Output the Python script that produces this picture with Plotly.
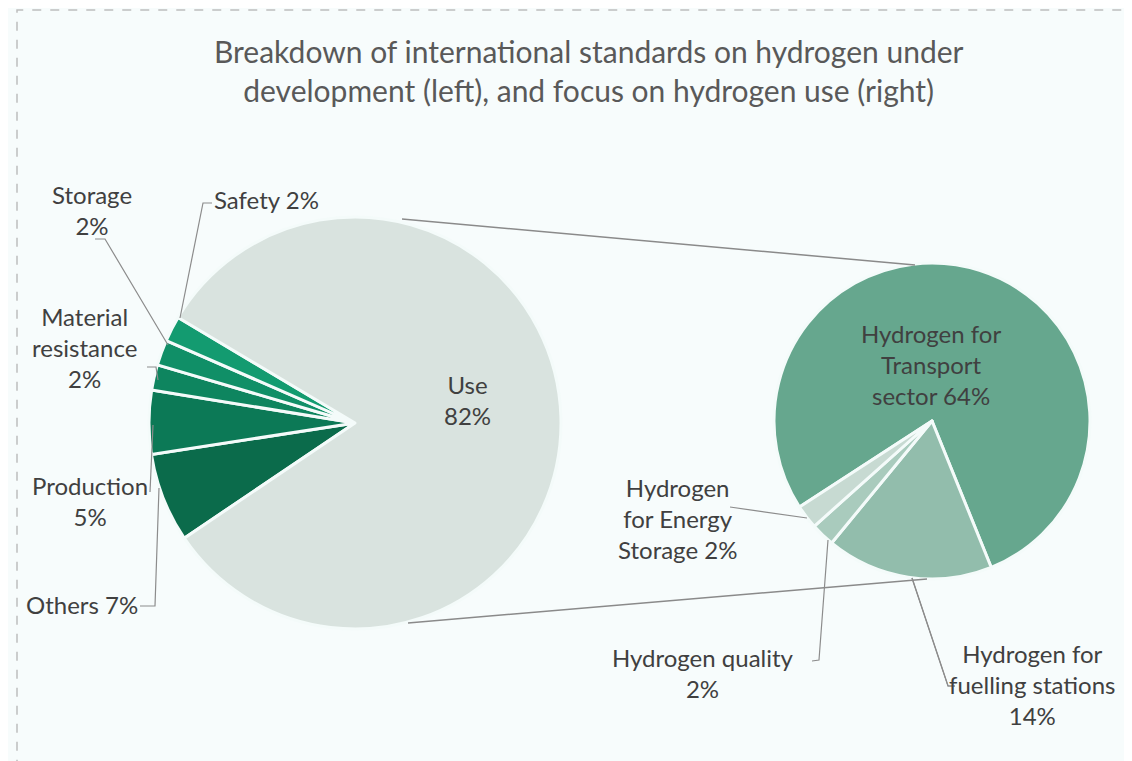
import plotly.graph_objects as go

# ---------------- data ----------------
title_lines = ["Breakdown of international standards on hydrogen under",
               "development (left), and focus on hydrogen use (right)"]

main_labels = ["Others", "Production", "Material resistance", "Storage", "Safety", "Use"]
main_values = [7, 5, 2, 2, 2, 82]
main_colors = ["#0b6b4b", "#0c7956", "#0e855f", "#108f67", "#139b70", "#d9e3df"]

use_labels = ["Hydrogen for Transport sector", "Hydrogen for fuelling stations",
              "Hydrogen quality", "Hydrogen for Energy Storage"]
use_values = [64, 14, 2, 2]
use_colors = ["#66a78e", "#92bdac", "#a9cbbd", "#c7dad2"]

# ---------------- layout helpers ----------------
W, H = 1132, 761
OFF = 8  # page body margin of the browser
FONT = "Lato, Carlito, 'Open Sans', sans-serif"
TXT = "#404040"
LEAD = "#8c8c8c"


def px(x, y):
    return (x - OFF) / W, 1 - (y - OFF) / H


def domain(cx, cy, r):
    xa, yb = px(cx - r, cy + r)
    xb, ya = px(cx + r, cy - r)
    return dict(x=[xa, xb], y=[yb, ya])


fig = go.Figure()

fig.add_trace(go.Pie(
    labels=main_labels, values=main_values, sort=False, direction="clockwise",
    rotation=236, domain=domain(355, 423, 206),
    marker=dict(colors=main_colors, line=dict(color="#f4fbfa", width=3)),
    textinfo="none", hoverinfo="label+percent", showlegend=False,
))

fig.add_trace(go.Pie(
    labels=use_labels, values=use_values, sort=False, direction="clockwise",
    rotation=237, domain=domain(932, 421, 158),
    marker=dict(colors=use_colors, line=dict(color="#f4fbfa", width=3)),
    textinfo="none", hoverinfo="label+value", showlegend=False,
))

# ---------------- label texts built from the data ----------------
mv = dict(zip(main_labels, main_values))
uv = dict(zip(use_labels, use_values))

labels = [
    (f"Others {mv['Others']}%", 82, 604),
    (f"Production<br>{mv['Production']}%", 90, 501),
    (f"Material<br>resistance<br>{mv['Material resistance']}%", 84, 347),
    (f"Storage<br>{mv['Storage']}%", 92, 210),
    (f"Safety {mv['Safety']}%", 266, 199),
    (f"Use<br>{mv['Use']}%", 467, 400),
    (f"Hydrogen for<br>Transport<br>sector {uv['Hydrogen for Transport sector']}%", 931, 364),
    (f"Hydrogen<br>for Energy<br>Storage {uv['Hydrogen for Energy Storage']}%", 677, 518),
    (f"Hydrogen quality<br>{uv['Hydrogen quality']}%", 703, 673),
    (f"Hydrogen for<br>fuelling stations<br>{uv['Hydrogen for fuelling stations']}%", 1032, 684),
]

annotations = []
for text, x, y in labels:
    xp, yp = px(x, y)
    annotations.append(dict(text=text, x=xp, y=yp, xref="paper", yref="paper",
                            xanchor="center", yanchor="middle", showarrow=False,
                            font=dict(family=FONT, size=24, color=TXT)))

tx, ty = px(589, 71)
annotations.append(dict(text="<br>".join(title_lines), x=tx, y=ty, xref="paper", yref="paper",
                        xanchor="center", yanchor="middle", showarrow=False,
                        font=dict(family=FONT, size=30, color="#595959")))

# ---------------- shapes: background frame, connectors, leaders ----------------
shapes = []
x0, y1 = px(17, 10)
shapes.append(dict(type="rect", xref="paper", yref="paper", x0=x0, x1=1.05, y0=-0.05, y1=y1,
                   fillcolor="#f7fcfc", line=dict(color="#bdbdbd", width=1.5, dash="dash"),
                   layer="below"))


def polyline(points, color=LEAD, width=1.2):
    d = "M " + " L ".join(f"{px(x, y)[0]:.5f},{px(x, y)[1]:.5f}" for x, y in points)
    return dict(type="path", xref="paper", yref="paper", path=d,
                line=dict(color=color, width=width), layer="above")


# connectors between the two pies
shapes.append(polyline([(402, 219), (915, 265)], color="#8a8a8a", width=1.5))
shapes.append(polyline([(408, 623), (927, 579)], color="#8a8a8a", width=1.5))

# leader lines
shapes.append(polyline([(212, 203), (203, 203), (180, 318)]))
shapes.append(polyline([(95, 239), (105, 239), (168, 345)]))
shapes.append(polyline([(147, 367), (156, 367), (158, 380)]))
shapes.append(polyline([(150, 492), (153, 425)]))
shapes.append(polyline([(140, 606), (155, 606), (159, 488)]))
shapes.append(polyline([(730, 507), (807, 518)]))
shapes.append(polyline([(812, 661), (819, 660), (828, 540)]))
shapes.append(polyline([(955, 686), (948, 686), (912, 578)]))

fig.update_layout(
    width=W, height=H, margin=dict(l=0, r=0, t=0, b=0),
    paper_bgcolor="#f7fcfc", annotations=annotations, shapes=shapes,
    font=dict(family=FONT, color=TXT),
)
# white strip outside the dashed frame (top and left)
shapes.insert(0, dict(type="rect", xref="paper", yref="paper", x0=-0.05, x1=1.05,
                      y0=-0.05, y1=1.05, fillcolor="white", line=dict(width=0), layer="below"))
fig.update_layout(shapes=shapes)

fig.write_html("out.html")
